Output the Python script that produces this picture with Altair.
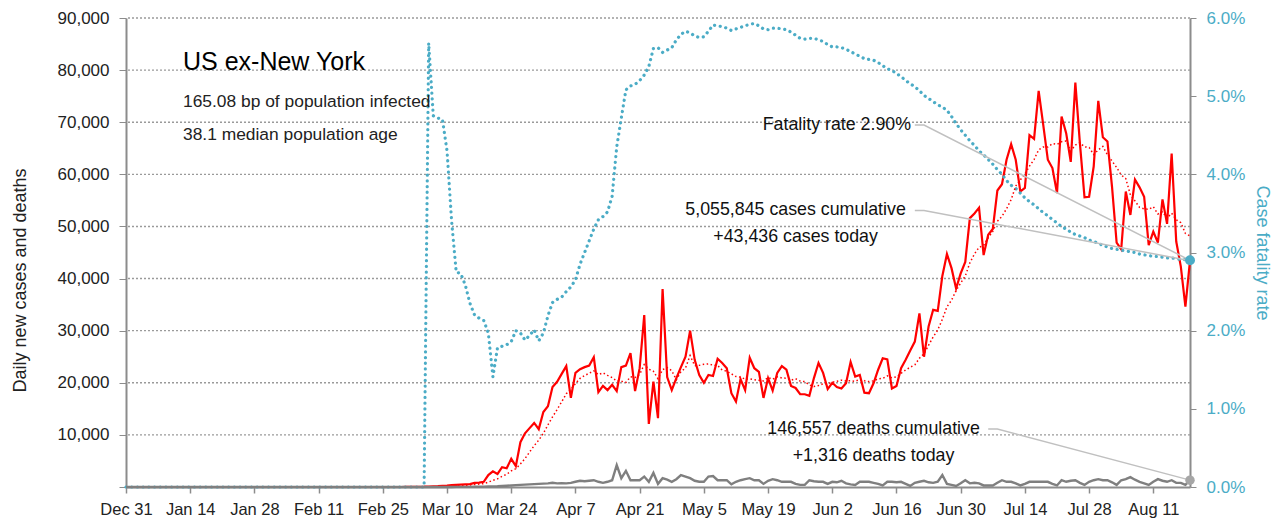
import altair as alt
import pandas as pd

FONT = "Liberation Sans, Arial, sans-serif"
BLUE = "#4bacc6"

# ---- data (Dec 31 2019 .. Aug 19 2020, daily) ----
dates = list(pd.date_range("2019-12-31", "2020-08-19").strftime("%Y-%m-%d"))

zeros_before_march = [0] * 61  # Dec 31 .. Feb 29

cases_mar = [10, 20, 30, 50, 60, 90, 120, 150, 200, 250,
             350, 400, 450, 500, 550, 800, 850, 1000, 2300, 3000,
             2500, 3800, 3600, 5400, 4000, 8600, 10300, 11300, 12300, 11100,
             14400]
cases_apr = [15500, 19200, 20200, 21700, 23200, 17100, 21900, 22600, 23000, 23300,
             24900, 18200, 19400, 18600, 19600, 18400, 23000, 23300, 25700, 18400,
             22800, 33000, 12100, 20200, 13200, 38000, 21100, 18600, 20900, 23000]
cases_may = [25000, 30000, 24400, 21500, 20000, 21500, 21300, 24600, 23800, 22800,
             18000, 16400, 20700, 18600, 24800, 22800, 22100, 17100, 20900, 18500,
             21900, 23200, 22500, 19400, 19000, 17800, 17800, 17500, 20900, 23800,
             21900]
cases_jun = [18800, 20000, 19200, 18900, 19900, 24000, 21200, 21500, 18100, 18000,
             19900, 22500, 24700, 24500, 18900, 19400, 22800, 24400, 26200, 27900,
             33300, 25000, 30800, 34000, 33800, 40500, 44700, 42000, 38100, 41000]
cases_jul = [43200, 51600, 52500, 53600, 44500, 48400, 49500, 56900, 58100, 62800,
             65800, 62800, 56700, 57400, 67500, 66800, 76000, 69500, 62800, 61200,
             56400, 71100, 67900, 62400, 77600, 65900, 55600, 55700, 61500, 74100,
             67100]
cases_aug = [66300, 57600, 46900, 45600, 56700, 52200, 59000, 57500, 55700, 46400,
             49000, 46900, 55200, 50500, 64000, 47100, 42300, 34600, 43436]

deaths_mar = [0, 0, 0, 1, 2, 3, 4, 5, 6, 8,
              10, 15, 20, 25, 30, 40, 50, 70, 90, 120,
              150, 200, 250, 300, 350, 400, 450, 500, 550, 600,
              650]
deaths_apr = [700, 800, 700, 750, 700, 800, 1000, 1200, 1100, 1200,
              1300, 1000, 800, 1000, 1300, 4200, 1700, 3100, 1300, 1300,
              1300, 2000, 1000, 2700, 600, 1700, 1400, 1000, 1500, 2300]
deaths_may = [2000, 1700, 1200, 1000, 1000, 2000, 2100, 1300, 1300, 1300,
              500, 1000, 1300, 1500, 1700, 1300, 1300, 600, 1200, 1500,
              1300, 1000, 1000, 1000, 600, 400, 400, 1300, 1100, 1000,
              1000]
deaths_jun = [600, 1000, 900, 1200, 700, 500, 400, 1000, 1000, 1000,
              800, 600, 300, 1000, 1000, 900, 1000, 600, 200, 800,
              1000, 1200, 900, 800, 1000, 2300, 600, 400, 200, 700]
deaths_jul = [1300, 700, 800, 700, 300, 300, 300, 800, 1300, 1000,
              1000, 700, 300, 600, 1000, 1000, 1000, 1000, 1000, 600,
              300, 1300, 1000, 1200, 1300, 800, 400, 1000, 1300, 1500,
              1300]
deaths_aug = [1300, 900, 400, 1300, 1500, 1900, 1400, 1000, 700, 400,
              1000, 1500, 1200, 1000, 1300, 800, 800, 400, 1316]

# case fatality rate, percent
rate_mar = [0, 0, 0, 0, 0, 5.68, 4.75, 4.72, 4.70, 4.30,
            3.40, 2.75, 2.73, 2.58, 2.35, 2.20, 2.16, 2.13, 1.97, 1.41,
            1.78, 1.80, 1.82, 1.86, 2.00, 1.97, 1.88, 1.94, 2.01, 1.87,
            1.97]
rate_apr = [2.19, 2.36, 2.40, 2.43, 2.50, 2.56, 2.65, 2.85, 3.00, 3.15,
            3.30, 3.42, 3.46, 3.52, 3.72, 4.35, 4.72, 5.08, 5.13, 5.15,
            5.20, 5.27, 5.38, 5.61, 5.62, 5.56, 5.59, 5.62, 5.72, 5.79]
rate_may = [5.83, 5.81, 5.77, 5.75, 5.76, 5.83, 5.91, 5.90, 5.89, 5.87,
            5.84, 5.86, 5.88, 5.90, 5.92, 5.93, 5.90, 5.86, 5.85, 5.87,
            5.87, 5.86, 5.85, 5.82, 5.78, 5.74, 5.73, 5.74, 5.74, 5.72,
            5.70]
rate_jun = [5.66, 5.63, 5.63, 5.62, 5.60, 5.57, 5.54, 5.51, 5.48, 5.47,
            5.46, 5.43, 5.39, 5.35, 5.33, 5.29, 5.25, 5.20, 5.16, 5.12,
            5.07, 5.01, 4.97, 4.93, 4.89, 4.86, 4.82, 4.74, 4.65, 4.57]
rate_jul = [4.50, 4.43, 4.37, 4.30, 4.25, 4.19, 4.13, 4.06, 4.00, 3.92,
            3.86, 3.82, 3.76, 3.70, 3.65, 3.61, 3.56, 3.51, 3.47, 3.42,
            3.38, 3.33, 3.30, 3.26, 3.23, 3.21, 3.19, 3.16, 3.14, 3.12,
            3.09]
rate_aug = [3.07, 3.05, 3.04, 3.03, 3.02, 3.01, 3.00, 2.98, 2.97, 2.96,
            2.95, 2.95, 2.94, 2.93, 2.93, 2.92, 2.91, 2.91, 2.90]

cases = zeros_before_march + cases_mar + cases_apr + cases_may + cases_jun + cases_jul + cases_aug
deaths = zeros_before_march + deaths_mar + deaths_apr + deaths_may + deaths_jun + deaths_jul + deaths_aug
rate_pct = zeros_before_march + rate_mar + rate_apr + rate_may + rate_jun + rate_jul + rate_aug

df = pd.DataFrame({"date": dates, "cases": cases, "deaths": deaths,
                   "rate": [r / 100 for r in rate_pct]})
last = pd.DataFrame({"date": [dates[-1]], "deaths": [deaths[-1]], "rate": [rate_pct[-1] / 100]})

# tick labels
tick_dates = ["2019-12-31", "2020-01-14", "2020-01-28", "2020-02-11", "2020-02-25",
              "2020-03-10", "2020-03-24", "2020-04-07", "2020-04-21", "2020-05-05",
              "2020-05-19", "2020-06-02", "2020-06-16", "2020-06-30", "2020-07-14",
              "2020-07-28", "2020-08-11"]
tick_ms = [int(pd.Timestamp(d, tz="UTC").value // 10**6) for d in tick_dates]
x_domain = [int(pd.Timestamp(dates[0], tz="UTC").value // 10**6),
            int(pd.Timestamp(dates[-1], tz="UTC").value // 10**6)]
left_ticks = [0, 10000, 20000, 30000, 40000, 50000, 60000, 70000, 80000, 90000]
right_ticks = [0, 0.01, 0.02, 0.03, 0.04, 0.05, 0.06]

# annotations (anchored in data space)
ann_text = ["Fatality rate 2.90%",
            "5,055,845 cases cumulative\n+43,436 cases today",
            "146,557 deaths cumulative\n+1,316 deaths today"]
ann_date = ["2020-06-03", "2020-05-25", "2020-06-11"]
ann_value = [69470, 53060, 11130]
ann = pd.DataFrame({"date": ann_date, "v": ann_value, "label": ann_text})

lead_grp = [1, 1, 1, 2, 2, 2, 3, 3, 3]
lead_seq = [0, 1, 2, 0, 1, 2, 0, 1, 2]
lead_date = ["2020-06-20", "2020-06-22", "2020-08-19",
             "2020-06-20", "2020-06-22", "2020-08-19",
             "2020-07-06", "2020-07-08", "2020-08-19"]
lead_value = [69470, 69470, 43500,
              53060, 53060, 43436,
              11130, 11130, 1316]
leaders = pd.DataFrame({"date": lead_date, "v": lead_value, "grp": lead_grp, "seq": lead_seq})

title_lines = ["US ex-New York", "165.08 bp of population infected", "38.1 median population age"]

# ---- chart ----
xscale = alt.Scale(type="utc", domain=x_domain, nice=False)
x_axis = alt.Axis(values=tick_ms, labelExpr="utcFormat(datum.value, '%b %-d')",
                  title=None, grid=False, tickSize=6, labelPadding=8,
                  labelOverlap=False, labelFlush=False, labelBound=False,
                  domainColor="#8c8c8c", domainWidth=2, tickColor="#8c8c8c", tickWidth=1.5,
                  labelFont=FONT, labelFontSize=16.5, labelColor="#222")
X = alt.X("date:T", scale=xscale, axis=x_axis)
Xn = alt.X("date:T", scale=xscale, axis=None)

yscale = alt.Scale(domain=[0, 90000], nice=False, zero=True)
y_axis = alt.Axis(values=left_ticks, orient="left",
                  labelExpr="datum.value == 0 ? '' : format(datum.value, ',')",
                  title="Daily new cases and deaths", titleFont=FONT, titleFontSize=18,
                  titleFontWeight="normal", titleColor="#222", titlePadding=28,
                  titleY=262, grid=False,
                  tickSize=7, labelPadding=10, tickColor="#8c8c8c",
                  domainColor="#8c8c8c", domainWidth=2,
                  labelFont=FONT, labelFontSize=17, labelColor="#222")

rscale = alt.Scale(domain=[0, 0.06], nice=False, zero=True)
r_axis = alt.Axis(orient="right", values=right_ticks, format=".1%",
                  title="Case fatality rate", titleFont=FONT, titleFontSize=18,
                  titleFontWeight="normal", titleColor=BLUE, titlePadding=8,
                  grid=False, tickSize=6, labelPadding=10, tickColor="#8c8c8c",
                  domainColor="#8c8c8c", domainWidth=2,
                  labelFont=FONT, labelFontSize=17, labelColor=BLUE)

base = alt.Chart(df)

# horizontal dotted grid at the left-axis tick values
grid = alt.Chart(pd.DataFrame({"v": left_ticks})).transform_filter("datum.v > 0").mark_rule(
    color="#9a9a9a", strokeDash=[2, 2], strokeWidth=1.4).encode(
    y=alt.Y("v:Q", scale=yscale, axis=None))

# axis carrier layers
x_carrier = base.mark_line(opacity=0).encode(
    x=X, y=alt.Y("cases:Q", scale=yscale, axis=None))
cases_line = base.mark_line(color="#ff0000", strokeWidth=2.2).encode(
    x=Xn, y=alt.Y("cases:Q", scale=yscale, axis=y_axis))
ma_line = base.transform_window(
    ma="mean(cases)", frame=[-6, 0], sort=[alt.SortField("date")]
).mark_line(color="#ff0000", strokeWidth=1.5, strokeDash=[1.5, 2.5]).encode(
    x=Xn, y=alt.Y("ma:Q", scale=yscale, axis=None))
deaths_line = base.mark_line(color="#7f7f7f", strokeWidth=2.4).encode(
    x=Xn, y=alt.Y("deaths:Q", scale=yscale, axis=None))
lead_lines = alt.Chart(leaders).mark_line(color="#c0c0c0", strokeWidth=1.5).encode(
    x=Xn, y=alt.Y("v:Q", scale=yscale, axis=None), detail="grp:N", order="seq:Q")
gray_dot = alt.Chart(last).mark_circle(color="#a6a6a6", opacity=1, size=90).encode(
    x=Xn, y=alt.Y("deaths:Q", scale=yscale, axis=None))
ann_text_layer = alt.Chart(ann).mark_text(
    align="center", baseline="middle", font=FONT, fontSize=17.8, lineHeight=27,
    lineBreak="\n", color="#111").encode(
    x=Xn, y=alt.Y("v:Q", scale=yscale, axis=None), text="label:N")

rate_line = base.mark_line(color=BLUE, strokeWidth=3.2, strokeDash=[0.1, 5.6],
                           strokeCap="round").encode(
    x=Xn, y=alt.Y("rate:Q", scale=rscale, axis=r_axis))
blue_dot = alt.Chart(last).mark_circle(color=BLUE, opacity=1, size=100).encode(
    x=Xn, y=alt.Y("rate:Q", scale=rscale, axis=None))

tdf = pd.DataFrame({"t": title_lines})
t1 = alt.Chart(tdf).transform_filter(alt.datum.t == title_lines[0]).mark_text(
    align="left", baseline="alphabetic", font=FONT, fontSize=25, color="#000").encode(
    x=alt.value(57), y=alt.value(52), text="t:N")
t2 = alt.Chart(tdf).transform_filter(alt.datum.t == title_lines[1]).mark_text(
    align="left", baseline="alphabetic", font=FONT, fontSize=17.4, color="#222").encode(
    x=alt.value(57), y=alt.value(89), text="t:N")
t3 = alt.Chart(tdf).transform_filter(alt.datum.t == title_lines[2]).mark_text(
    align="left", baseline="alphabetic", font=FONT, fontSize=17.4, color="#222").encode(
    x=alt.value(57), y=alt.value(122), text="t:N")

chart = alt.layer(
    grid, cases_line, x_carrier, rate_line, ma_line, deaths_line, lead_lines, gray_dot,
    blue_dot, ann_text_layer, t1, t2, t3
).resolve_scale(x="independent", y="independent").properties(
    width=1064, height=469,
    padding={"left": 118, "top": 10, "right": 85, "bottom": 40},
    autosize=alt.AutoSizeParams(type="none"),
    background="white",
).configure_view(stroke=None)

chart.save("out.html", embed_options={"renderer": "svg", "actions": False})
